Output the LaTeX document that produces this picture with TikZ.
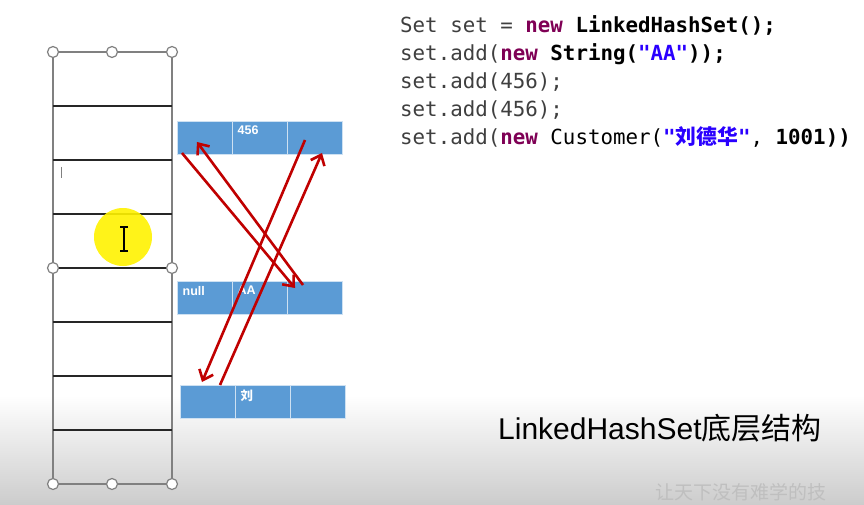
\documentclass[tikz,border=0pt]{standalone}
\usepackage{fontspec}
\setmainfont{Liberation Sans}
\setmonofont{DejaVu Sans Mono}
\newfontfamily\cjk{Noto Sans CJK SC}
\usetikzlibrary{positioning,arrows.meta}
\definecolor{cellblue}{HTML}{5B9BD5}
\definecolor{arrowred}{HTML}{C00000}
\definecolor{kw}{HTML}{7F0055}
\definecolor{strblue}{HTML}{2A00FF}
\definecolor{plain}{HTML}{3F3F3F}

\begin{document}
\begin{tikzpicture}[x=1pt,y=-1pt,
    cell/.style={draw=white!70!cellblue,line width=0.8pt,fill=cellblue,minimum width=55pt,minimum height=33pt,inner sep=0pt,outer sep=0pt},
    tag/.style={anchor=north west,inner sep=5pt,text=white,font=\bfseries\fontsize{12.5}{12.5}\selectfont},
    ptr/.style={draw=arrowred,line width=2.6pt,-{Straight Barb[length=9pt,width=15pt]}},
    code/.style={anchor=base west,inner sep=0pt,text=plain,font=\ttfamily\fontsize{20.8}{20.8}\selectfont},
    handle/.style={draw=gray,fill=white,line width=1.2pt}]
    \useasboundingbox (0,0) rectangle (864,505);
    \fill[white] (0,0) rectangle (864,505);
    \shade[top color=white,bottom color=black!20] (0,395) rectangle (864,505);

    % the table of buckets
    \draw[gray,line width=2.2pt] (53,52) rectangle (172,484);
    \foreach \y in {106,160,...,430}
        \draw[black!85,line width=1.6pt] (53,\y) -- (172,\y);
    \foreach \p in {(53,52),(112,52),(172,52),(53,268),(172,268),(53,484),(112,484),(172,484)}
        \draw[handle] \p circle (5.5pt);
    \draw[gray,line width=0.8pt] (61,167) -- (61,178);

    \fill[yellow,opacity=0.9] (123,237) circle (29pt);
    \draw[line width=1.3pt] (124,227) -- (124,251) (120,227) -- (128,227) (120,251) -- (128,251);

    % the entries
    \node[cell] (a1) at (205,137.5) {};
    \node[cell,right=0pt of a1,label={[tag]north west:456}] (a2) {};
    \node[cell,right=0pt of a2] (a3) {};

    \node[cell,label={[tag]north west:null}] (b1) at (205,297.5) {};
    \node[cell,right=0pt of b1,label={[tag]north west:AA}] (b2) {};
    \node[cell,right=0pt of b2] (b3) {};

    \node[cell] (c1) at (208,401.5) {};
    \node[cell,right=0pt of c1,label={[tag]north west:{\cjk 刘}}] (c2) {};
    \node[cell,right=0pt of c2] (c3) {};

    % before / after links
    \draw[ptr] ([xshift=4.5pt,yshift=1pt]a1.south west) -- ([xshift=7.5pt,yshift=-7pt]b3.north west);
    \draw[ptr] ([xshift=15.5pt,yshift=-4pt]b3.north west) -- ([xshift=-8pt,yshift=-4.5pt]a1.center);
    \draw[ptr] ([xshift=-10pt,yshift=-2.5pt]a3.center) -- ([xshift=21.5pt,yshift=3pt]c1.north west);
    \draw[ptr] ([xshift=39.5pt]c1.north west) -- ([xshift=7pt,yshift=1pt]a3.south);

    % the code
    \node[code] (l1) at (400,33) {Set set = \textcolor{kw}{\bfseries new} \textcolor{black}{\bfseries LinkedHashSet();}};
    \node[code] (l2) at ([yshift=-28pt]l1.base west) {set.add(\textcolor{kw}{\bfseries new} \textcolor{black}{\bfseries String(}\textcolor{strblue}{\bfseries"AA"}\textcolor{black}{\bfseries ));}};
    \node[code] (l3) at ([yshift=-28pt]l2.base west) {set.add(456);};
    \node[code] (l4) at ([yshift=-28pt]l3.base west) {set.add(456);};
    \node[code] (l5) at ([yshift=-28pt]l4.base west) {set.add(\textcolor{kw}{\bfseries new} \textcolor{black}{Customer(}\textcolor{strblue}{\bfseries"{\cjk 刘德华}"}\textcolor{black}{, \bfseries 1001))}};

    \node[anchor=base west,inner sep=0pt,font=\fontsize{30}{30}\selectfont] (title) at (498,439) {LinkedHashSet{\cjk 底层结构}};
    \node[anchor=base west,inner sep=0pt,text=black!25,font=\cjk\fontsize{19}{19}\selectfont] (mark) at (655,499) {让天下没有难学的技};
\end{tikzpicture}
\end{document}
